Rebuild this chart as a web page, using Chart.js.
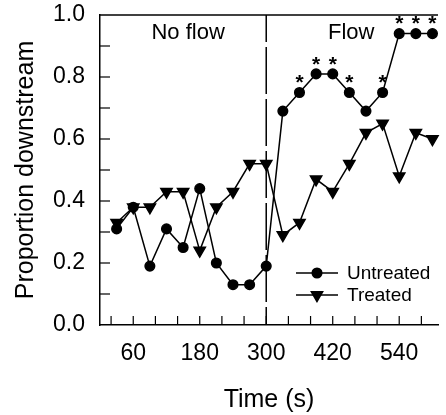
<!DOCTYPE html>
<html>
<head>
<meta charset="utf-8">
<script src="https://cdn.jsdelivr.net/npm/chart.js@4"></script>
<style>
  body { margin: 0; background: #fff; }
  #wrap { width: 446px; height: 415px; position: relative; }
</style>
</head>
<body>
<div id="wrap"><canvas id="chart"></canvas></div>
<script>
// time points (s)
var times = [30, 60, 90, 120, 150, 180, 210, 240, 270, 300,
             330, 360, 390, 420, 450, 480, 510, 540, 570, 600];
var untreated = [0.31, 0.38, 0.19, 0.31, 0.25, 0.44, 0.20, 0.13, 0.13, 0.19,
                 0.69, 0.75, 0.81, 0.81, 0.75, 0.69, 0.75, 0.94, 0.94, 0.94];
var treated = [0.33, 0.38, 0.38, 0.43, 0.43, 0.24, 0.38, 0.43, 0.52, 0.52,
               0.29, 0.33, 0.47, 0.43, 0.52, 0.62, 0.65, 0.48, 0.62, 0.60];
// untreated points marked as significant
var starred = [360, 390, 420, 450, 510, 540, 570, 600];
var xTickLabels = [60, 180, 300, 420, 540];
var xMinorTicks = [20, 60, 100, 140, 180, 220, 260, 300, 340, 380, 420, 460, 500, 540, 580];
var yTickLabels = [0, 0.2, 0.4, 0.6, 0.8, 1.0];
var yMinorTicks = [0.1, 0.2, 0.3, 0.4, 0.5, 0.6, 0.7, 0.8, 0.9];
var flowStart = 300;

var font = 'Liberation Sans, Arial, sans-serif';

function pts(vals) {
    return times.map(function (t, i) { return { x: t, y: vals[i] }; });
}

var extras = {
    id: 'extras',
    afterDatasetsDraw: function (chart) {
        var ctx = chart.ctx;
        var a = chart.chartArea;
        var xs = chart.scales.x, ys = chart.scales.y;
        ctx.save();
        ctx.strokeStyle = '#000';
        ctx.fillStyle = '#000';
        ctx.lineWidth = 1.5;

        // top frame line
        ctx.beginPath();
        ctx.moveTo(a.left, a.top);
        ctx.lineTo(a.right, a.top);
        ctx.stroke();

        // inward ticks
        ctx.lineWidth = 1.2;
        xMinorTicks.forEach(function (v) {
            var px = xs.getPixelForValue(v);
            ctx.beginPath();
            ctx.moveTo(px, a.bottom);
            ctx.lineTo(px, a.bottom - 9);
            ctx.stroke();
        });
        yMinorTicks.forEach(function (v) {
            var py = ys.getPixelForValue(v);
            ctx.beginPath();
            ctx.moveTo(a.left, py);
            ctx.lineTo(a.left + 10, py);
            ctx.stroke();
        });

        // flow onset
        var fx = xs.getPixelForValue(flowStart);
        ctx.lineWidth = 1.5;
        ctx.setLineDash([47, 5]);
        ctx.lineDashOffset = 20;
        ctx.beginPath();
        ctx.moveTo(fx, a.top);
        ctx.lineTo(fx, a.bottom);
        ctx.stroke();
        ctx.setLineDash([]);

        // phase labels
        ctx.font = '22px ' + font;
        ctx.textAlign = 'center';
        ctx.textBaseline = 'middle';
        ctx.fillText('No flow', (a.left + fx) / 2 + 5, a.top + 18);
        ctx.fillText('Flow', fx + 85, a.top + 18);

        // asterisks
        ctx.font = 'bold 21px ' + font;
        starred.forEach(function (t) {
            var i = times.indexOf(t);
            ctx.fillText('*', xs.getPixelForValue(t), ys.getPixelForValue(untreated[i]) - 9);
        });

        // legend
        var lx = a.left + 196, ly = a.top + 258;
        ctx.font = '19px ' + font;
        ctx.textAlign = 'left';
        chart.data.datasets.forEach(function (ds, k) {
            var y = ly + k * 22;
            ctx.lineWidth = 1.5;
            ctx.beginPath();
            ctx.moveTo(lx, y);
            ctx.lineTo(lx + 42, y);
            ctx.stroke();
            Chart.helpers.drawPoint(ctx, {
                pointStyle: ds.pointStyle,
                rotation: ds.rotation || 0,
                radius: ds.pointRadius,
                borderWidth: 1
            }, lx + 21, y);
            ctx.fill();
            ctx.fillText(ds.label, lx + 51, y + 1);
        });
        ctx.restore();
    }
};

new Chart(document.getElementById('chart'), {
    type: 'line',
    data: {
        datasets: [{
            label: 'Untreated',
            data: pts(untreated),
            borderColor: '#000',
            backgroundColor: '#000',
            borderWidth: 1.5,
            pointStyle: 'circle',
            pointRadius: 4.8,
            pointBackgroundColor: '#000',
            pointBorderColor: '#000',
            tension: 0
        }, {
            label: 'Treated',
            data: pts(treated),
            borderColor: '#000',
            backgroundColor: '#000',
            borderWidth: 1.5,
            pointStyle: 'triangle',
            rotation: 180,
            pointRadius: 6.5,
            pointBackgroundColor: '#000',
            pointBorderColor: '#000',
            tension: 0
        }]
    },
    options: {
        responsive: true,
        maintainAspectRatio: false,
        animation: false,
        clip: false,
        layout: { padding: { top: 15, left: 0, right: 0, bottom: 0 } },
        plugins: { legend: { display: false }, tooltip: { enabled: false } },
        scales: {
            x: {
                type: 'linear',
                min: 0,
                max: 610,
                grid: { display: false, drawTicks: false },
                border: { display: true, color: '#000', width: 1.5 },
                afterBuildTicks: function (s) {
                    s.ticks = xTickLabels.map(function (v) { return { value: v }; });
                },
                afterFit: function (s) {
                    s.height = 90;
                    s.paddingLeft = 0;
                    s.paddingRight = 0;
                },
                ticks: {
                    color: '#000',
                    padding: 15,
                    font: { family: font, size: 23 },
                    maxRotation: 0
                },
                title: {
                    display: true,
                    text: 'Time (s)',
                    color: '#000',
                    font: { family: font, size: 25 },
                    padding: { top: 0, bottom: 0 }
                }
            },
            y: {
                min: 0,
                max: 1,
                grid: { display: false, drawTicks: false },
                border: { display: true, color: '#000', width: 1.5 },
                afterBuildTicks: function (s) {
                    s.ticks = yTickLabels.map(function (v) { return { value: v }; });
                },
                afterFit: function (s) {
                    s.width = 100;
                    s.paddingTop = 0;
                    s.paddingBottom = 0;
                },
                ticks: {
                    color: '#000',
                    padding: 15,
                    font: { family: font, size: 23 },
                    callback: function (v) { return Number(v).toFixed(1); }
                },
                title: {
                    display: true,
                    text: 'Proportion downstream',
                    color: '#000',
                    font: { family: font, size: 25 },
                    padding: { top: 11, bottom: 0 }
                }
            }
        }
    },
    plugins: [extras]
});
</script>
</body>
</html>
